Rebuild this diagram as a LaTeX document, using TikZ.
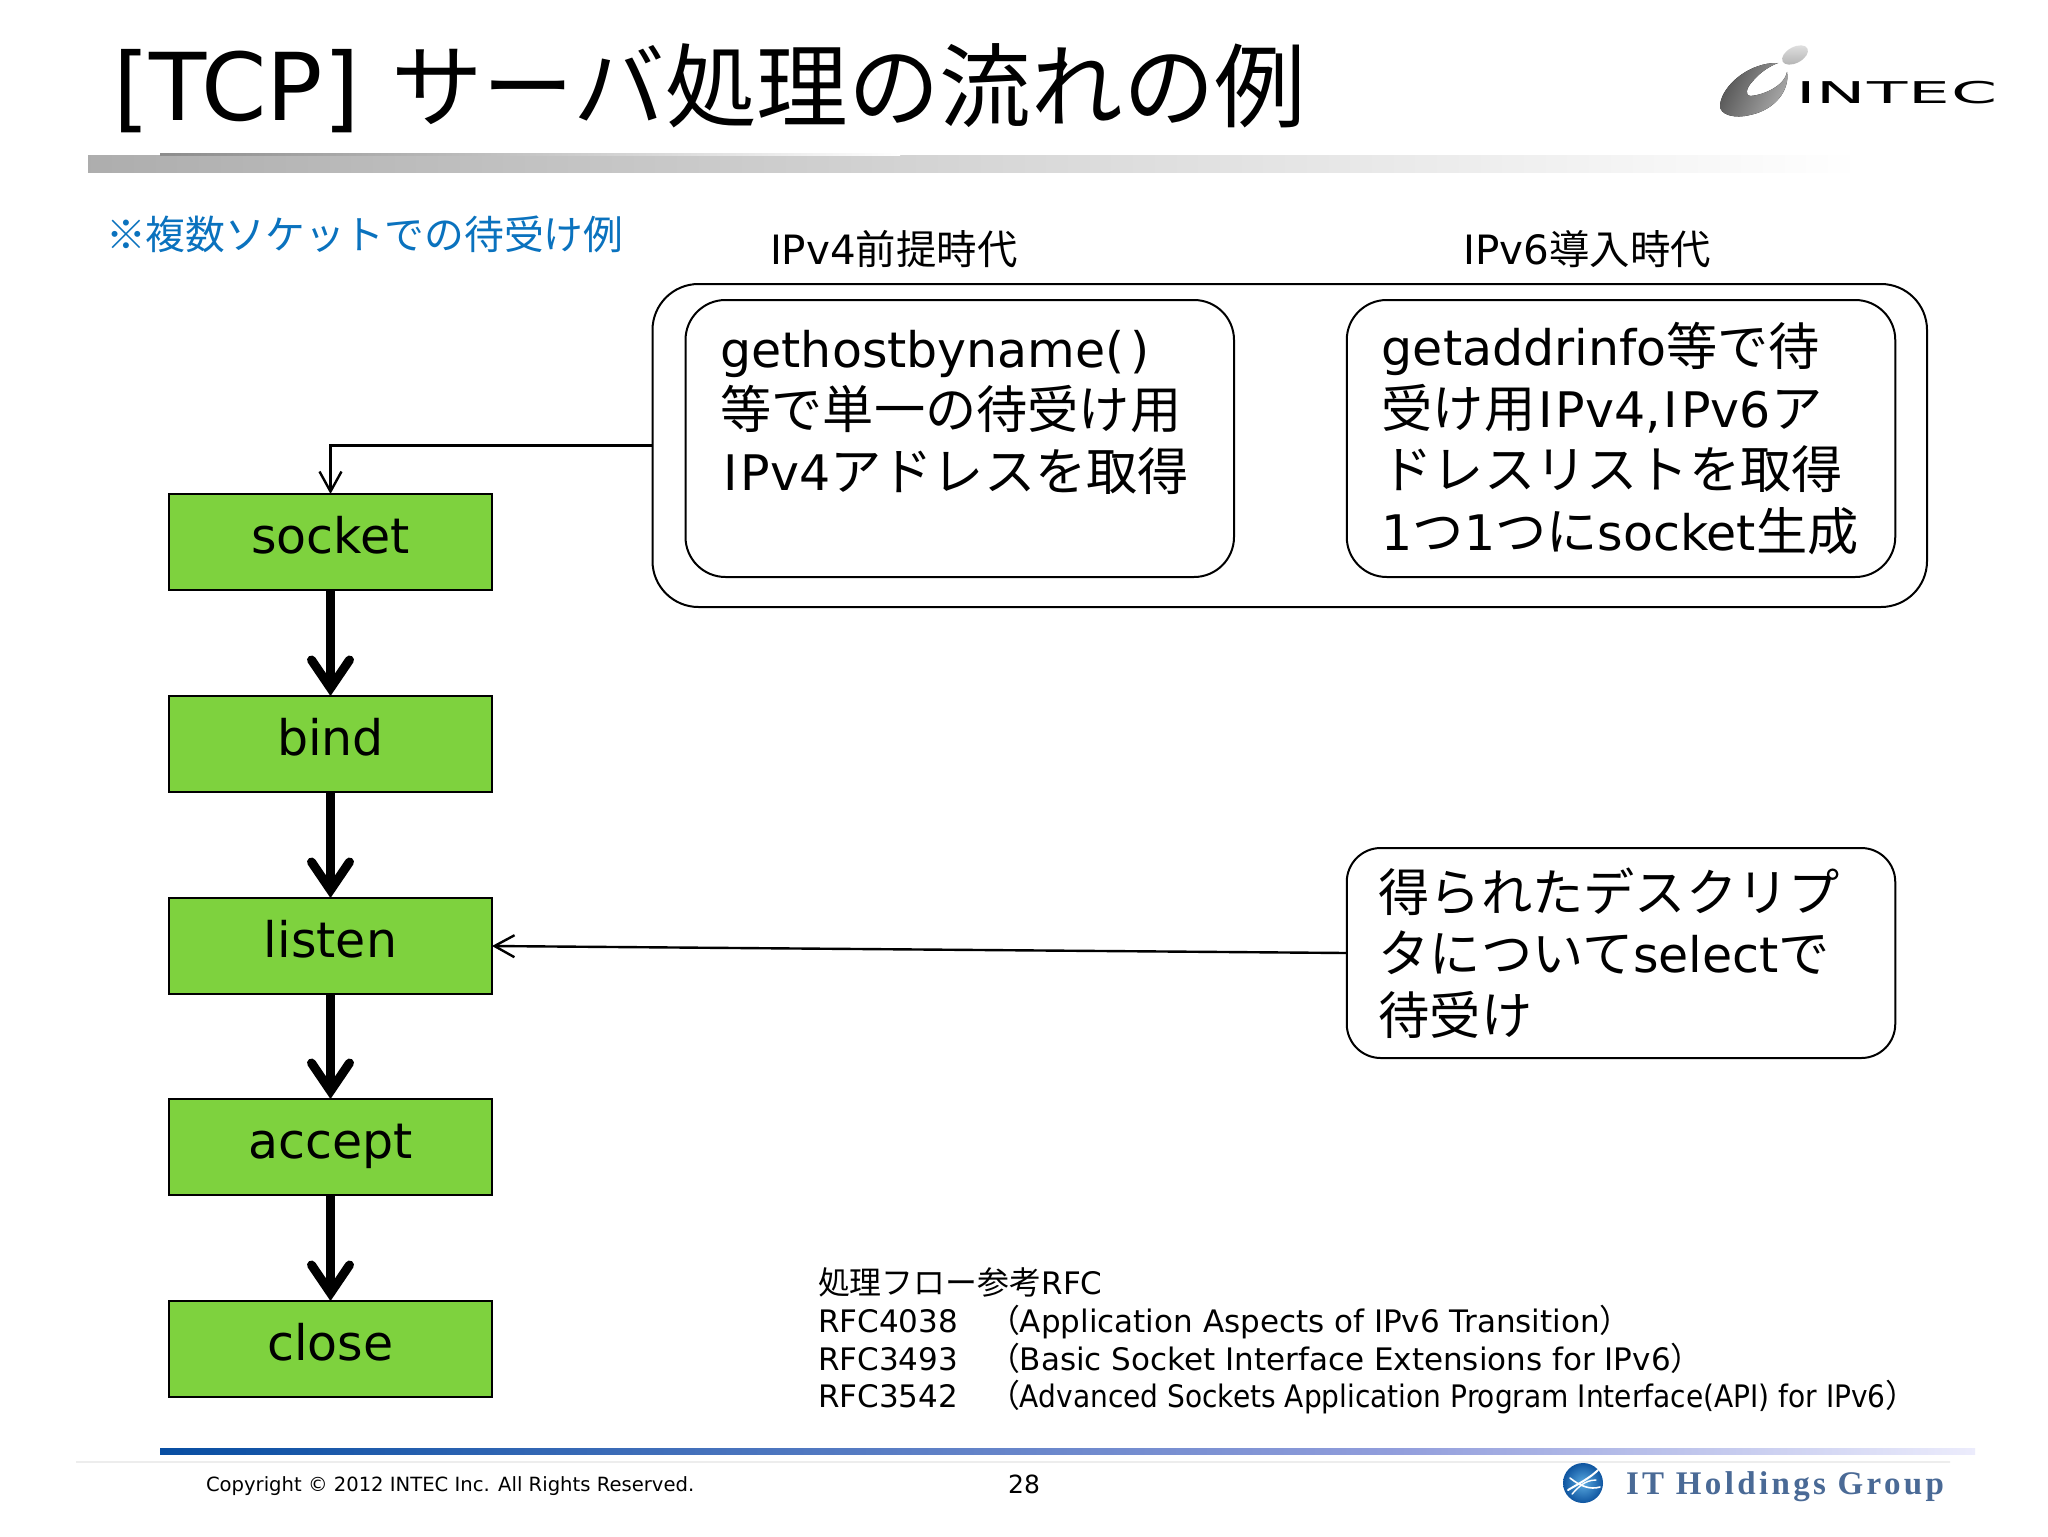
\documentclass[tikz,border=0pt]{standalone}
\usepackage{fontspec}
\usetikzlibrary{arrows.meta,shapes.geometric,calc}
\setmainfont{DejaVu Sans}
\newfontfamily\jp{Noto Sans CJK JP}
\newfontfamily\jpb[Scale=1.045]{Noto Sans CJK JP}
\newfontfamily\jpr[Scale=1.03]{Noto Sans CJK JP}
\newfontfamily\narrowlat[FakeStretch=0.905]{DejaVu Sans}
\newfontfamily\intecfont[FakeStretch=2.2,LetterSpace=4]{DejaVu Sans}
\newfontfamily\itgfont[LetterSpace=10.2]{Liberation Serif}
\newcommand\J[1]{{\jp #1}}
\newcommand\Jb[1]{{\jpb #1}}
\newcommand\Jr[1]{{\jpr #1}}
\newcommand\wideI{\hspace{.06em}I\hspace{.06em}}
\newcommand\fs[2]{\fontsize{#1pt}{#2pt}\selectfont\lineskiplimit=-30pt\lineskip=0pt }
\definecolor{boxgreen}{HTML}{7ED23E}
\definecolor{noteblue}{HTML}{0A72BE}
\definecolor{itgblue}{HTML}{4A6A96}
\tikzset{
  plain/.style={inner sep=0pt,outer sep=0pt},
  stepbox/.style={draw=black,line width=1pt,fill=boxgreen,minimum width=161.5pt,minimum height=48pt,
    inner sep=0pt,outer sep=0pt,text height=11.5pt,text depth=0pt,font=\fs{24.5}{30}},
  round box/.style={draw=black,line width=1pt,fill=white,rounded corners=20pt,outer sep=0pt,
    minimum width=274.25pt,align=left,inner ysep=0pt,font=\fs{24.5}{30.7}},
  flow/.style={line width=4.5pt,-{Straight Barb[length=14pt,width=19pt,line cap=round,line join=miter]}},
  note/.style={line width=1.2pt,-{Straight Barb[length=10pt,width=11pt]}},
}
\begin{document}
\begin{tikzpicture}[x=0.5pt,y=-0.5pt]
\useasboundingbox (0,0) rectangle (2048,1536);
\fill[white] (0,0) rectangle (2048,1536);
% title bar
\fill[left color=black!32,right color=white] (88,155) rectangle (1860,172);
\fill[left color=black!45,right color=white] (160,153) rectangle (900,155);
% footer bars
\fill[left color=black!7,right color=black!7] (76,1461.5) rectangle (1950,1462.5);
\fill[left color={rgb,255:red,8;green,78;blue,162},right color={rgb,255:red,146;green,158;blue,220}] (160,1448) rectangle (1400,1454);
\fill[left color={rgb,255:red,146;green,158;blue,220},right color={rgb,255:red,236;green,236;blue,252}] (1400,1448) rectangle (1975,1454);
% title and notes
\node[plain,anchor=base west,font=\fs{46.8}{50}] (title) at (113,120) {[TCP] \hspace{1pt}{\fontsize{45.8pt}{50pt}\selectfont\J{サーバ処理の流れの例}}};
\node[plain,anchor=base west,font=\fs{19.9}{24},text=noteblue] (multi) at (106,249) {\J{※複数ソケットでの待受け例}};
\node[plain,anchor=base west,font=\fs{20.2}{24}] (ipv4era) at (770,264) {IPv4\J{前提時代}};
\node[plain,anchor=base west,font=\fs{20.2}{24}] (ipv6era) at (1463.5,264) {IPv6\J{導入時代}};
% containers
\node[draw=black,line width=1pt,rounded corners=23pt,outer sep=0pt,minimum width=637.25pt,minimum height=161.5pt,inner sep=0pt] (outer) at (1289.75,445.5) {};
\node[round box,minimum height=138.5pt,inner xsep=17.5pt,text width=239.25pt] (v4) at (959.75,438.5)
  {\rule{0pt}{21pt}gethostbyname(\hspace{3pt})\\\Jb{等で単一の待受け用}\\\wideI Pv4\Jb{アドレスを取得}\\\mbox{}};
\node[round box,minimum height=138.5pt,inner xsep=17.5pt,text width=239.25pt] (v6) at (1621,438.5)
  {getaddrinfo\Jb{等で待}\\\Jb{受け用}\wideI Pv4,\wideI Pv6\Jb{ア}\\\Jb{ドレスリストを取得}\\1\Jb{つ}1\Jb{つに}socket\Jb{生成}};
\node[round box,rounded corners=17pt,minimum height=105pt,inner xsep=16pt,text width=242.25pt] (sel) at (1621,953)
  {\Jb{得られたデスクリプ}\\\Jb{タについて}select\Jb{で}\\\Jb{待受け}};
% flow
\node[stepbox] (socket) at (330.5,542) {socket};
\node[stepbox] (bind) at (330.5,744) {bind};
\node[stepbox] (listen) at (330.5,946) {listen};
\node[stepbox] (accept) at (330.5,1147) {accept};
\node[stepbox] (close) at (330.5,1349) {close};
\draw[flow] (socket) -- (bind);
\draw[flow] (bind) -- (listen);
\draw[flow] (listen) -- (accept);
\draw[flow] (accept) -- (close);
\draw[note] (outer.west) -| (socket.north);
\draw[note] (sel.west) -- (listen.east);
% references
\node[plain,anchor=north west,align=left,font=\fs{15.5}{18.8}] (refs) at (818,1268)
 {\Jr{処理フロー参考}RFC\\
  \makebox[85pt][l]{RFC4038}\Jr{（}Application Aspects of IPv6 Transition\Jr{）}\\
  \makebox[85pt][l]{RFC3493}\Jr{（}Basic Socket Interface Extensions for IPv6\Jr{）}\\
  \makebox[85pt][l]{RFC3542}\Jr{（}{\narrowlat Advanced Sockets Application Program Interface(API) for IPv6}\Jr{）}};
% footer text
\node[plain,anchor=base west,font=\fs{9.8}{12}] (copy) at (206,1491.5) {Copyright © 2012 INTEC Inc. All Rights Reserved.};
\node[plain,anchor=base,font=\fs{12.5}{14}] (pagenum) at (1024,1493.5) {28};
% INTEC logo
\fill[left color=black!68,right color=black!32,shading angle=65]
  (1778,63) .. controls (1750,62) and (1722,85) .. (1720,105)
  .. controls (1719,115) and (1735,119) .. (1750,115)
  .. controls (1775,110) and (1790,90) .. (1787,72)
  .. controls (1785,85) and (1765,95) .. (1750,96)
  .. controls (1745,96) and (1746,88) .. (1752,82)
  .. controls (1760,72) and (1770,66) .. (1778,63) -- cycle;
\node[ellipse,plain,minimum width=14pt,minimum height=8pt,rotate=28,top color=black!12,bottom color=black!30] (dot) at (1795,55) {};
\node[plain,anchor=base west,font=\fs{15}{18}] (intec) at (1796,104) {\intecfont INTEC};
% IT Holdings logo
\node[circle,plain,minimum size=20pt,inner color={rgb,255:red,90;green,170;blue,225},outer color={rgb,255:red,15;green,85;blue,160}] (globe) at (1583,1483) {};
\draw[white,line width=1pt,line cap=round] (1568,1490) .. controls (1578,1484) and (1590,1478) .. (1598,1470);
\draw[white,line width=.8pt,line cap=round] (1570,1478) .. controls (1580,1486) and (1590,1490) .. (1600,1487);
\draw[white,line width=.7pt,line cap=round] (1572,1494) .. controls (1578,1488) and (1584,1480) .. (1596,1480);
\node[plain,anchor=base west,font=\fs{16.5}{20},text=itgblue] (itg) at (1626,1494) {\itgfont\bfseries IT Holdings Group};
\end{tikzpicture}
\end{document}
